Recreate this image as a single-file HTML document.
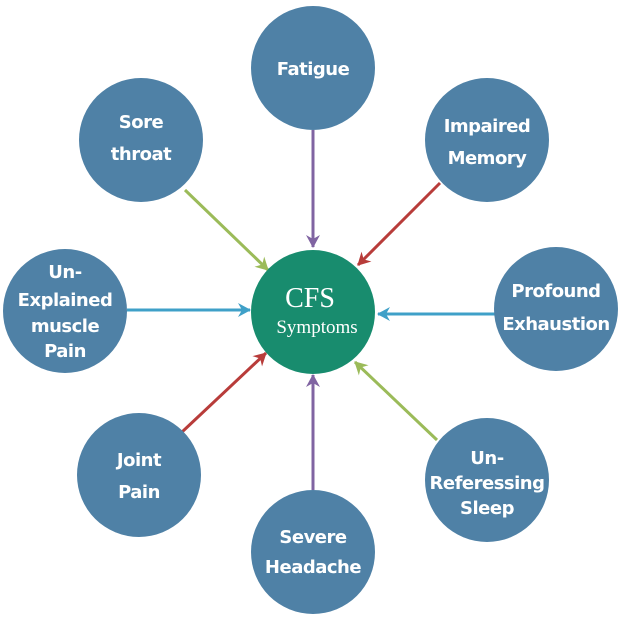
<!DOCTYPE html>
<html><head><style>body{margin:0;background:#fff}svg{display:block}</style></head><body>
<svg width="625" height="619" viewBox="0 0 625 619" xmlns="http://www.w3.org/2000/svg">
<defs>
<marker id="p" markerWidth="16" markerHeight="16" refX="13" refY="8" orient="auto" markerUnits="userSpaceOnUse"><path d="M1,1 L14,8 L1,15 L5,8 Z" fill="#8064a2"/></marker>
<marker id="r" markerWidth="16" markerHeight="16" refX="13" refY="8" orient="auto" markerUnits="userSpaceOnUse"><path d="M1,1 L14,8 L1,15 L5,8 Z" fill="#b83c3a"/></marker>
<marker id="g" markerWidth="16" markerHeight="16" refX="13" refY="8" orient="auto" markerUnits="userSpaceOnUse"><path d="M1,1 L14,8 L1,15 L5,8 Z" fill="#9bbb59"/></marker>
<marker id="b" markerWidth="16" markerHeight="16" refX="13" refY="8" orient="auto" markerUnits="userSpaceOnUse"><path d="M1,1 L14,8 L1,15 L5,8 Z" fill="#3fa0c8"/></marker>
</defs>
<g stroke-width="3" fill="none">
<line x1="313" y1="130" x2="313" y2="247" stroke="#8064a2" marker-end="url(#p)"/>
<line x1="313" y1="490" x2="313" y2="375" stroke="#8064a2" marker-end="url(#p)"/>
<line x1="185" y1="190" x2="268" y2="270" stroke="#9bbb59" marker-end="url(#g)"/>
<line x1="437" y1="440" x2="355" y2="362" stroke="#9bbb59" marker-end="url(#g)"/>
<line x1="440" y1="183" x2="358" y2="265" stroke="#b83c3a" marker-end="url(#r)"/>
<line x1="182" y1="432" x2="266" y2="353" stroke="#b83c3a" marker-end="url(#r)"/>
<line x1="127" y1="310" x2="250" y2="310" stroke="#3fa0c8" marker-end="url(#b)"/>
<line x1="496" y1="314" x2="378" y2="314" stroke="#3fa0c8" marker-end="url(#b)"/>
</g>
<g fill="#4f81a6">
<circle cx="313" cy="68" r="62"/>
<circle cx="487" cy="140" r="62"/>
<circle cx="556" cy="309" r="62"/>
<circle cx="487" cy="480" r="62"/>
<circle cx="313" cy="552" r="62"/>
<circle cx="139" cy="475" r="62"/>
<circle cx="65" cy="311" r="62"/>
<circle cx="141" cy="140" r="62"/>
</g>
<circle cx="313" cy="312" r="62" fill="#188c6e"/>
<g fill="#fff" font-family="DejaVu Sans, sans-serif" font-weight="bold" font-size="18" text-anchor="middle" letter-spacing="-0.5">
<text x="313" y="75">Fatigue</text>
<text x="487" y="132">Impaired</text><text x="487" y="164">Memory</text>
<text x="556" y="297">Profound</text><text x="556" y="330">Exhaustion</text>
<text x="487" y="464">Un-</text><text x="487" y="489">Referessing</text><text x="487" y="514">Sleep</text>
<text x="313" y="543">Severe</text><text x="313" y="573">Headache</text>
<text x="139" y="466">Joint</text><text x="139" y="498">Pain</text>
<text x="65" y="278">Un-</text><text x="65" y="306">Explained</text><text x="65" y="332">muscle</text><text x="65" y="357">Pain</text>
<text x="141" y="128">Sore</text><text x="141" y="160">throat</text>
</g>
<g fill="#fff" font-family="Liberation Serif, serif" text-anchor="middle">
<text x="310" y="307" font-size="28">CFS</text>
<text x="317" y="333" font-size="19">Symptoms</text>
</g>
</svg>
</body></html>
